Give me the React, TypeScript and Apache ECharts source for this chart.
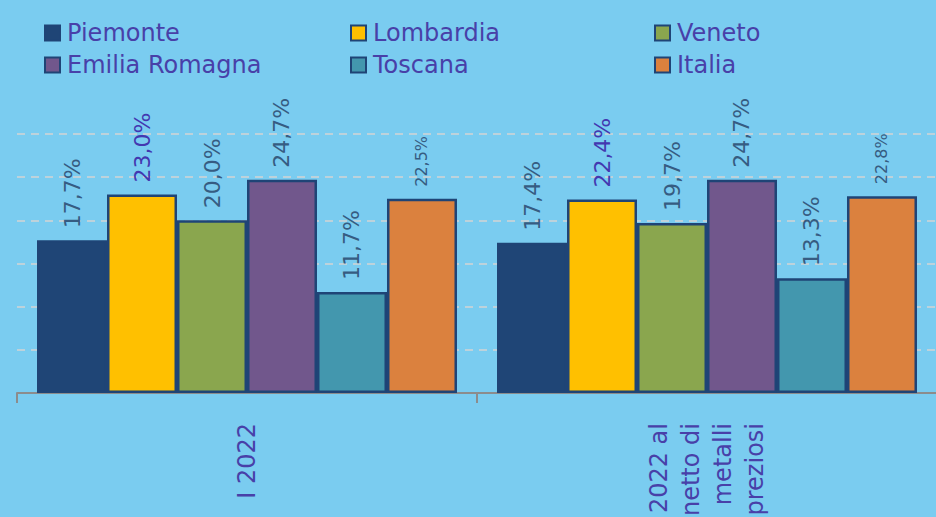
import React, { useEffect, useRef } from "react";
import * as echarts from "echarts";

const categories = ["I 2022", "I 2022 al\nnetto di\nmetalli\npreziosi"];
const seriesNames = ["Piemonte", "Lombardia", "Veneto", "Emilia Romagna", "Toscana", "Italia"];
const piemonte = [17.7, 17.4];
const lombardia = [23.0, 22.4];
const veneto = [20.0, 19.7];
const emilia = [24.7, 24.7];
const toscana = [11.7, 13.3];
const italia = [22.5, 22.8];
const seriesValues = [piemonte, lombardia, veneto, emilia, toscana, italia];
const colors = ["#1F4576", "#FFC000", "#8AA64E", "#71578C", "#4397AE", "#DB813E"];
const legendColumns = [
  ["Piemonte", "Emilia Romagna"],
  ["Lombardia", "Toscana"],
  ["Veneto", "Italia"],
];
const legendLefts = [39, 345, 649];

const FONT = "DejaVu Sans";
const LEGEND_TEXT = "#4840A8";
const LABEL_TEXT = "#365C82";

export default function App() {
  const ref = useRef<HTMLDivElement>(null);
  useEffect(() => {
    if (!ref.current) return;
    const chart = echarts.init(ref.current, null, { renderer: "svg" });
    const fmt = (p: any) => p.value.toFixed(1).replace(".", ",") + "%";
    const series = seriesNames.map((name, i) => ({
      name,
      type: "bar",
      data: seriesValues[i],
      barGap: "0%",
      barCategoryGap: "8.7%",
      itemStyle: {
        color: colors[i],
        borderColor: "#1F4476",
        borderWidth: 2.5,
      },
      label: {
        show: true,
        position: "top",
        rotate: 90,
        align: "left",
        verticalAlign: "middle",
        distance: 12,
        formatter: fmt,
        fontFamily: FONT,
        fontSize: name === "Italia" ? 16 : 22,
        color: name === "Lombardia" ? "#4338B0" : LABEL_TEXT,
      },
    }));
    chart.setOption({
      animation: false,
      backgroundColor: "#7ACCF0",
      legend: legendColumns.map((col, i) => ({
        data: col,
        orient: "vertical",
        left: legendLefts[i],
        top: 16,
        itemWidth: 15,
        itemHeight: 15,
        itemGap: 8,
        icon: "rect",
        selectedMode: false,
        textStyle: {
          fontFamily: FONT,
          fontSize: 24,
          lineHeight: 24,
          color: LEGEND_TEXT,
          padding: [0, 0, 0, 2],
        },
      })),
      grid: {
        left: 17,
        right: -1,
        top: 134,
        bottom: 124,
        containLabel: false,
        outerBoundsMode: "none",
      },
      xAxis: {
        type: "category",
        data: categories,
        axisLine: { show: true, lineStyle: { color: "#8C8C8C", width: 2 } },
        axisTick: { show: true, length: 10, lineStyle: { color: "#8C8C8C", width: 2 } },
        axisLabel: {
          interval: 0,
          rotate: 90,
          margin: 30,
          fontFamily: FONT,
          fontSize: 24,
          lineHeight: 32,
          color: LEGEND_TEXT,
        },
      },
      yAxis: {
        type: "value",
        min: 0,
        max: 30,
        interval: 5,
        axisLabel: { show: false },
        axisLine: { show: false },
        axisTick: { show: false },
        splitLine: {
          show: true,
          lineStyle: { color: "#D4D4D4", type: [8, 6], width: 1.5 },
        },
      },
      series,
    });
    return () => chart.dispose();
  }, []);
  return (
    <div
      ref={ref}
      style={{ position: "fixed", left: 0, top: 0, width: 936, height: 517 }}
    />
  );
}
